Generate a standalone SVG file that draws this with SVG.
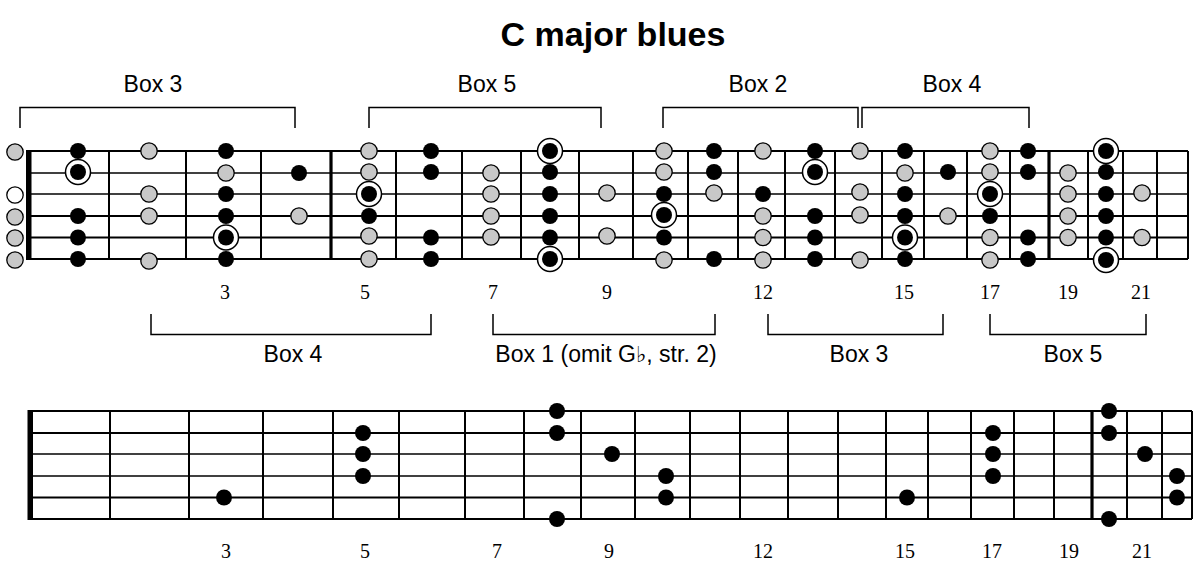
<svg xmlns="http://www.w3.org/2000/svg" xmlns:xlink="http://www.w3.org/1999/xlink" width="1200" height="577" viewBox="0 0 1200 577">
<style>
.title{font-family:"Liberation Sans",Arial,sans-serif;font-weight:bold;font-size:34px;text-anchor:middle;fill:#000}
.lbl{font-family:"Liberation Sans",Arial,"DejaVu Sans",sans-serif;font-size:23px;text-anchor:middle;fill:#000}
.flat{font-family:"DejaVu Sans",sans-serif;font-weight:bold;font-size:22px}
.num{font-family:"Liberation Serif","Times New Roman",serif;font-size:20px;text-anchor:middle;fill:#000}
.str{stroke:#000;stroke-width:2}
.strt{stroke:#000;stroke-width:1.3}
.fret{stroke:#000;stroke-width:2}
.fretk{stroke:#000;stroke-width:3.2}
.br{fill:none;stroke:#000;stroke-width:1.5}
.gray{fill:#c8c8c8;stroke:#000;stroke-width:1.3}
.blk{fill:#000}
.wht{fill:#fff;stroke:#000;stroke-width:1.3}
.ring{fill:#fff;stroke:#000;stroke-width:1.5}
</style>
<defs>
<circle id="g" r="8.2" class="gray"/>
<circle id="b" r="8" class="blk"/>
<circle id="w" r="8.2" class="wht"/>
<g id="r"><circle r="12.5" class="ring"/><circle r="8" class="blk"/></g>
</defs>
<rect width="1200" height="577" fill="#fff"/>
<text class="title" x="613" y="46">C major blues</text>

<g id="connectors">
<g id="top-brackets">
<path class="br" d="M20,128 V107.5 H295 V128"/>
<path class="br" d="M369,128 V107.5 H601 V128"/>
<path class="br" d="M663,128 V107.5 H858 V128"/>
<path class="br" d="M862,128 V107.5 H1029 V128"/>
</g>
<g id="bottom-brackets">
<path class="br" d="M151,314 V334.5 H431 V314"/>
<path class="br" d="M493,314 V334.5 H715 V314"/>
<path class="br" d="M768,314 V334.5 H943 V314"/>
<path class="br" d="M990,314 V334.5 H1146 V314"/>
</g>
</g>

<g id="labels-top">
<text class="lbl" x="153" y="92">Box 3</text>
<text class="lbl" x="487" y="92">Box 5</text>
<text class="lbl" x="758" y="92">Box 2</text>
<text class="lbl" x="952" y="92">Box 4</text>
</g>
<g id="labels-bottom">
<text class="lbl" x="293" y="362">Box 4</text>
<text class="lbl" x="606" y="362">Box 1 (omit G<tspan class="flat">♭</tspan>, str. 2)</text>
<text class="lbl" x="859" y="362">Box 3</text>
<text class="lbl" x="1073" y="362">Box 5</text>
</g>

<g id="fretboard-top">
<line class="str" x1="28" y1="151" x2="1188" y2="151"/>
<line class="strt" x1="28" y1="173" x2="1188" y2="173"/>
<line class="strt" x1="28" y1="194" x2="1188" y2="194"/>
<line class="str" x1="28" y1="216" x2="1188" y2="216"/>
<line class="str" x1="28" y1="237.5" x2="1188" y2="237.5"/>
<line class="str" x1="28" y1="259" x2="1188" y2="259"/>
<rect x="26" y="150" width="5.5" height="110" fill="#000"/>
<g>
<line class="fret" x1="109" y1="151" x2="109" y2="259"/>
<line class="fret" x1="186" y1="151" x2="186" y2="259"/>
<line class="fret" x1="261" y1="151" x2="261" y2="259"/>
<line class="fretk" x1="331" y1="151" x2="331" y2="259"/>
<line class="fret" x1="396" y1="151" x2="396" y2="259"/>
<line class="fret" x1="462" y1="151" x2="462" y2="259"/>
<line class="fret" x1="521" y1="151" x2="521" y2="259"/>
<line class="fret" x1="579" y1="151" x2="579" y2="259"/>
<line class="fret" x1="633" y1="151" x2="633" y2="259"/>
<line class="fret" x1="688" y1="151" x2="688" y2="259"/>
<line class="fret" x1="738" y1="151" x2="738" y2="259"/>
<line class="fret" x1="785" y1="151" x2="785" y2="259"/>
<line class="fret" x1="835" y1="151" x2="835" y2="259"/>
<line class="fret" x1="882" y1="151" x2="882" y2="259"/>
<line class="fret" x1="924" y1="151" x2="924" y2="259"/>
<line class="fret" x1="967" y1="151" x2="967" y2="259"/>
<line class="fret" x1="1010" y1="151" x2="1010" y2="259"/>
<line class="fretk" x1="1049" y1="151" x2="1049" y2="259"/>
<line class="fret" x1="1088" y1="151" x2="1088" y2="259"/>
<line class="fret" x1="1123" y1="151" x2="1123" y2="259"/>
<line class="fret" x1="1157" y1="151" x2="1157" y2="259"/>
<line class="fret" x1="1188" y1="151" x2="1188" y2="259"/>
</g>
<g id="top-numbers">
<text class="num" x="225" y="299">3</text>
<text class="num" x="365" y="299">5</text>
<text class="num" x="493" y="299">7</text>
<text class="num" x="607" y="299">9</text>
<text class="num" x="763" y="299">12</text>
<text class="num" x="904" y="299">15</text>
<text class="num" x="990" y="299">17</text>
<text class="num" x="1068" y="299">19</text>
<text class="num" x="1141" y="299">21</text>
</g>
</g>

<g id="dots-top">
<g id="t-open"><use href="#g" x="15" y="152"/><use href="#w" x="15" y="195"/><use href="#g" x="15" y="217"/><use href="#g" x="15" y="238"/><use href="#g" x="15" y="260"/></g>
<g id="t-f1"><use href="#b" x="78" y="151"/><use href="#r" x="78" y="172"/><use href="#b" x="78" y="216"/><use href="#b" x="78" y="237.5"/><use href="#b" x="78" y="259"/></g>
<g id="t-f2"><use href="#g" x="149" y="151"/><use href="#g" x="149" y="194"/><use href="#g" x="149" y="216"/><use href="#g" x="149" y="261"/></g>
<g id="t-f3"><use href="#b" x="226" y="151"/><use href="#g" x="226" y="173"/><use href="#b" x="226" y="194"/><use href="#b" x="226" y="216"/><use href="#r" x="226" y="237.5"/><use href="#b" x="226" y="259"/></g>
<g id="t-f4"><use href="#b" x="299" y="173"/><use href="#g" x="299" y="216"/></g>
<g id="t-f5"><use href="#g" x="369" y="151"/><use href="#g" x="369" y="172"/><use href="#r" x="369" y="194"/><use href="#b" x="369" y="216"/><use href="#g" x="369" y="236"/><use href="#g" x="369" y="259"/></g>
<g id="t-f6"><use href="#b" x="431" y="151"/><use href="#b" x="431" y="172"/><use href="#b" x="431" y="237.5"/><use href="#b" x="431" y="259"/></g>
<g id="t-f7"><use href="#g" x="491" y="173"/><use href="#g" x="491" y="194"/><use href="#g" x="491" y="216"/><use href="#g" x="491" y="237"/></g>
<g id="t-f8"><use href="#r" x="550" y="151"/><use href="#b" x="550" y="172"/><use href="#b" x="550" y="194"/><use href="#b" x="550" y="216"/><use href="#b" x="550" y="237.5"/><use href="#r" x="550" y="259"/></g>
<g id="t-f9"><use href="#g" x="607" y="193"/><use href="#g" x="607" y="236"/></g>
<g id="t-f10"><use href="#g" x="664" y="151"/><use href="#g" x="664" y="172"/><use href="#b" x="664" y="194"/><use href="#r" x="664" y="215"/><use href="#b" x="664" y="237.5"/><use href="#g" x="664" y="260"/></g>
<g id="t-f11"><use href="#b" x="714" y="151"/><use href="#b" x="714" y="172"/><use href="#g" x="714" y="193"/><use href="#b" x="714" y="259"/></g>
<g id="t-f12"><use href="#g" x="763" y="151"/><use href="#b" x="763" y="194"/><use href="#g" x="763" y="216"/><use href="#g" x="763" y="237.5"/><use href="#g" x="763" y="260"/></g>
<g id="t-f13"><use href="#b" x="815" y="151"/><use href="#r" x="815" y="172"/><use href="#b" x="815" y="216"/><use href="#b" x="815" y="237.5"/><use href="#b" x="815" y="259"/></g>
<g id="t-f14"><use href="#g" x="860" y="151"/><use href="#g" x="860" y="192"/><use href="#g" x="860" y="215"/><use href="#g" x="860" y="260"/></g>
<g id="t-f15"><use href="#b" x="905" y="151"/><use href="#g" x="905" y="173"/><use href="#b" x="905" y="194"/><use href="#b" x="905" y="216"/><use href="#r" x="905" y="237.5"/><use href="#b" x="905" y="259"/></g>
<g id="t-f16"><use href="#b" x="948" y="172"/><use href="#g" x="948" y="216"/></g>
<g id="t-f17"><use href="#g" x="990" y="151"/><use href="#g" x="990" y="172"/><use href="#r" x="990" y="194"/><use href="#b" x="990" y="216"/><use href="#g" x="990" y="237.5"/><use href="#g" x="990" y="260"/></g>
<g id="t-f18"><use href="#b" x="1028" y="151"/><use href="#b" x="1028" y="172"/><use href="#b" x="1028" y="237.5"/><use href="#b" x="1028" y="259"/></g>
<g id="t-f19"><use href="#g" x="1068" y="173"/><use href="#g" x="1068" y="194"/><use href="#g" x="1068" y="216"/><use href="#g" x="1068" y="237.5"/></g>
<g id="t-f20"><use href="#r" x="1106" y="151"/><use href="#b" x="1106" y="172"/><use href="#b" x="1106" y="194"/><use href="#b" x="1106" y="216"/><use href="#b" x="1106" y="237.5"/><use href="#r" x="1106" y="260"/></g>
<g id="t-f21"><use href="#g" x="1142" y="193"/><use href="#g" x="1142" y="237.5"/></g>
</g>

<g id="fretboard-bottom">
<line class="str" x1="30" y1="411" x2="1192" y2="411"/>
<line class="str" x1="30" y1="433" x2="1192" y2="433"/>
<line class="strt" x1="30" y1="454" x2="1192" y2="454"/>
<line class="strt" x1="30" y1="476" x2="1192" y2="476"/>
<line class="str" x1="30" y1="497.5" x2="1192" y2="497.5"/>
<line class="str" x1="30" y1="519" x2="1192" y2="519"/>
<rect x="27.5" y="410" width="5.5" height="110" fill="#000"/>
<g>
<line class="fret" x1="110" y1="411" x2="110" y2="519"/>
<line class="fret" x1="189" y1="411" x2="189" y2="519"/>
<line class="fret" x1="263" y1="411" x2="263" y2="519"/>
<line class="fret" x1="333" y1="411" x2="333" y2="519"/>
<line class="fret" x1="399" y1="411" x2="399" y2="519"/>
<line class="fret" x1="465" y1="411" x2="465" y2="519"/>
<line class="fret" x1="524" y1="411" x2="524" y2="519"/>
<line class="fret" x1="581" y1="411" x2="581" y2="519"/>
<line class="fret" x1="635" y1="411" x2="635" y2="519"/>
<line class="fret" x1="690" y1="411" x2="690" y2="519"/>
<line class="fret" x1="740" y1="411" x2="740" y2="519"/>
<line class="fret" x1="788" y1="411" x2="788" y2="519"/>
<line class="fret" x1="838" y1="411" x2="838" y2="519"/>
<line class="fret" x1="886" y1="411" x2="886" y2="519"/>
<line class="fret" x1="928" y1="411" x2="928" y2="519"/>
<line class="fret" x1="971" y1="411" x2="971" y2="519"/>
<line class="fret" x1="1014" y1="411" x2="1014" y2="519"/>
<line class="fret" x1="1054" y1="411" x2="1054" y2="519"/>
<line class="fretk" x1="1092" y1="411" x2="1092" y2="519"/>
<line class="fret" x1="1127" y1="411" x2="1127" y2="519"/>
<line class="fret" x1="1162" y1="411" x2="1162" y2="519"/>
<line class="fret" x1="1192" y1="411" x2="1192" y2="519"/>
</g>
<g id="bottom-numbers">
<text class="num" x="226" y="558">3</text>
<text class="num" x="365" y="558">5</text>
<text class="num" x="497" y="558">7</text>
<text class="num" x="609" y="558">9</text>
<text class="num" x="763" y="558">12</text>
<text class="num" x="905" y="558">15</text>
<text class="num" x="992" y="558">17</text>
<text class="num" x="1069" y="558">19</text>
<text class="num" x="1142" y="558">21</text>
</g>
</g>

<g id="dots-bottom">
<use href="#b" x="224" y="497.5"/>
<use href="#b" x="363" y="433"/><use href="#b" x="363" y="454"/><use href="#b" x="363" y="476"/>
<use href="#b" x="557" y="411"/><use href="#b" x="557" y="433"/><use href="#b" x="557" y="519"/>
<use href="#b" x="612" y="454"/>
<use href="#b" x="666" y="476"/><use href="#b" x="666" y="497.5"/>
<use href="#b" x="907" y="497.5"/>
<use href="#b" x="993" y="433"/><use href="#b" x="993" y="454"/><use href="#b" x="993" y="476"/>
<use href="#b" x="1109" y="411"/><use href="#b" x="1109" y="433"/><use href="#b" x="1109" y="519"/>
<use href="#b" x="1145" y="454"/>
<use href="#b" x="1177" y="476"/><use href="#b" x="1177" y="497.5"/>
</g>
</svg>
